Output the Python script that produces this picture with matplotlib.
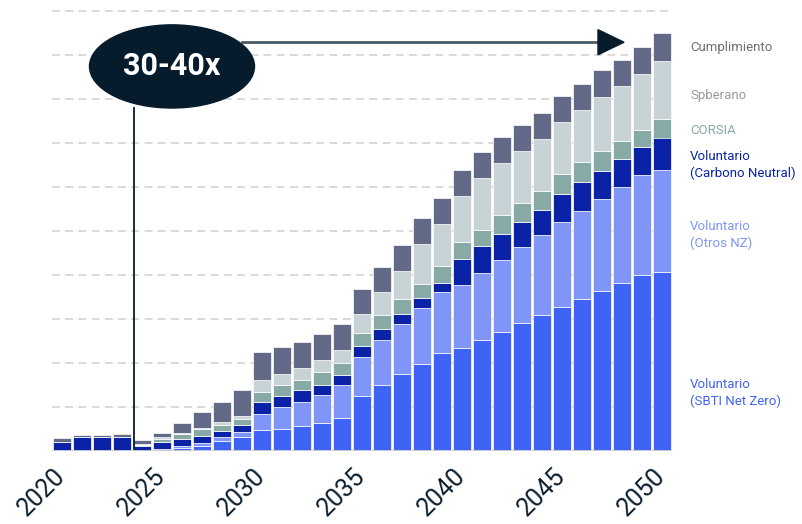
import numpy as np
import matplotlib
matplotlib.use("Agg")
import matplotlib.pyplot as plt
from matplotlib.patches import Ellipse, Polygon
from matplotlib.transforms import ScaledTranslation

plt.rcParams['font.family'] = ['Roboto', 'DejaVu Sans']

years = list(range(2020, 2051))
# stacked segments, bottom to top (units: 10 per gridline)
sbti = [0, 0, 0, 0, 0, 0, 0.75, 1.2, 2.2, 3.2, 4.8, 5.1, 5.75, 6.3, 7.5, 12.5,
        15.1, 17.5, 19.8, 22.3, 23.4, 25.3, 27.1, 29.1, 31.0, 32.8, 34.6, 36.4,
        38.25, 40.1, 40.75]
otros = [0, 0, 0, 0, 0, 0.35, 0.3, 0.6, 0.9, 1.1, 3.6, 4.8, 5.5, 6.4, 7.4, 8.9,
         10.2, 11.4, 12.7, 13.9, 14.25, 15.2, 16.3, 17.2, 18.1, 19.25, 20.0,
         20.9, 21.8, 22.7, 23.1]
carbono = [2.0, 3.2, 3.2, 3.2, 1.2, 1.7, 1.6, 1.7, 1.4, 1.5, 2.8, 2.7, 2.6, 2.4,
           2.3, 2.4, 2.4, 2.3, 2.2, 2.0, 6.1, 6.1, 6.0, 5.8, 5.7, 6.4, 6.5,
           6.25, 6.3, 6.2, 7.4]
corsia = [0, 0, 0, 0, 0.1, 0.75, 1.2, 1.45, 1.4, 1.45, 2.3, 2.3, 2.3, 2.9, 2.9,
          3.0, 3.3, 3.25, 3.25, 3.8, 3.7, 3.6, 4.25, 4.3, 4.4, 4.6, 4.55, 4.7,
          4.0, 4.0, 4.1]
spberano = [0, 0, 0, 0, 0.25, 0.3, 0.3, 0.25, 0.6, 0.8, 2.7, 2.7, 2.7, 2.7, 2.9,
            4.25, 5.1, 6.5, 9.2, 9.7, 10.5, 11.75, 11.7, 11.7, 11.8, 11.7, 11.8,
            12.3, 12.6, 12.65, 13.25]
cumplimiento = [1.0, 0.5, 0.5, 0.7, 0.9, 1.1, 2.3, 3.6, 4.6, 5.75, 6.2, 6.0, 5.9,
                6.0, 5.9, 5.7, 5.8, 5.8, 5.8, 5.8, 5.9, 5.9, 6.0, 5.9, 5.8, 6.0,
                5.9, 6.0, 6.0, 6.1, 6.4]

series = [sbti, otros, carbono, corsia, spberano, cumplimiento]
colors = ['#3F63F5', '#7F96F8', '#0A23A6', '#88AAA7', '#C8D3D8', '#636A87']
labels = ['Voluntario\n(SBTI Net Zero)', 'Voluntario\n(Otros NZ)',
          'Voluntario\n(Carbono Neutral)', 'CORSIA', 'Spberano', 'Cumplimiento']
label_colors = ['#3F63F5', '#7F96F8', '#0A23A6', '#88AAA7', '#9B9B9B', '#6E6E6E']
label_y = [393, 235, 165, 131, 96, 48]  # pixel rows from top

fig = plt.figure(figsize=(8.02, 5.24), dpi=100)
ax = fig.add_axes([52/802, 73/524, 620/802, 440/524])

x = np.arange(len(years))
bottom = np.zeros(len(years))
for vals, c in zip(series, colors):
    ax.bar(x, vals, bottom=bottom, width=0.94, color=c, edgecolor='white',
           linewidth=0.5, zorder=2)
    bottom += np.array(vals)

# dashed grid
for g in range(10, 101, 10):
    ax.axhline(g, color='#D9D9D9', lw=1.4, ls=(0, (4, 2.8)), zorder=0, clip_on=False)
ax.axhline(0, color='#D4D4D4', lw=2, zorder=3)

ax.set_xlim(-0.5, len(years) - 0.5)
ax.set_ylim(0, 100)
for s in ax.spines.values():
    s.set_visible(False)
ax.set_yticks([])
tick_idx = [i for i, y in enumerate(years) if y % 5 == 0]
ax.set_xticks(tick_idx)
ax.set_xticklabels([str(years[i]) for i in tick_idx], rotation=45, ha='right',
                   fontsize=18, color='#0B1E2D')
ax.tick_params(axis='x', length=0, pad=9)
off = ScaledTranslation(8/100, 0, fig.dpi_scale_trans)
for lab in ax.get_xticklabels():
    lab.set_transform(lab.get_transform() + off)

# callout
ax.plot([3.6, 3.6], [0.5, 78], color='#061C2D', lw=1.3, zorder=4, clip_on=False)
ax.plot([9.0, 26.9], [92.9, 92.9], color='#4A5A66', lw=2, zorder=4, clip_on=False)
ax.add_patch(Polygon([[26.8, 92.9 + 2.85], [26.8, 92.9 - 2.85], [28.1, 92.9]],
                     closed=True, color='#061C2D', zorder=5, clip_on=False))
ax.add_patch(Ellipse((5.5, 87.4), 8.25, 18.9, color='#061C2D', zorder=6,
                     clip_on=False))
ax.text(5.5, 87.4, '30-40x', color='white', fontsize=22, fontweight='bold',
        ha='center', va='center', zorder=7)

for lab, c, yy in zip(labels, label_colors, label_y):
    fig.text(690/802, 1 - yy/524, lab, color=c, fontsize=9.5, ha='left',
             va='center', linespacing=1.3)

fig.savefig('out.png', dpi=100)
